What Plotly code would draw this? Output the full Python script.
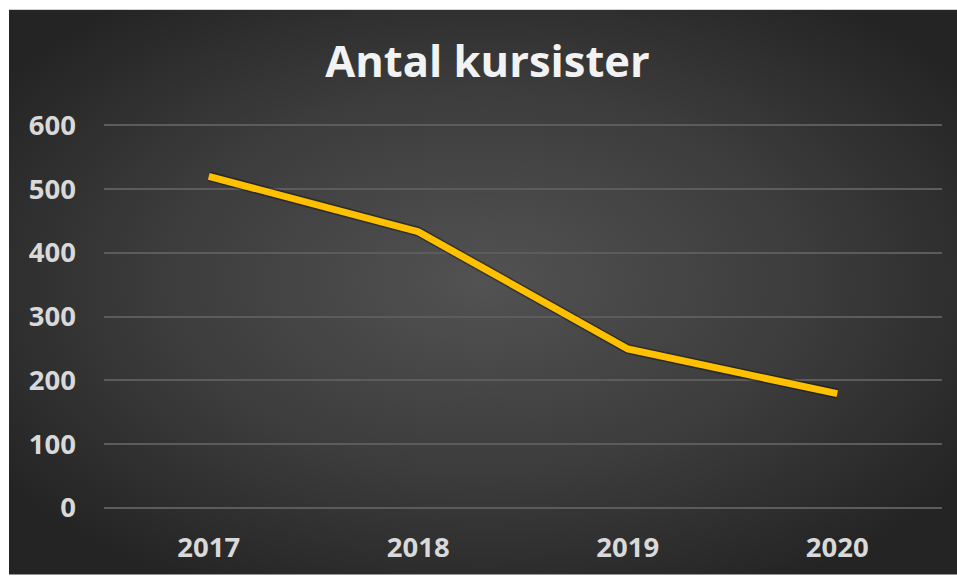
import base64
import plotly.graph_objects as go

# Data
years = ["2017", "2018", "2019", "2020"]
kursister = [520, 433, 249, 179]
y_ticks = [0, 100, 200, 300, 400, 500, 600]

W, H = 957, 577
ML, MR, MT, MB = 104, 15, 124, 66
plot_w = W - ML - MR
plot_h = H - MT - MB

# dark radial-gradient background (white 9px strip at top and left)
bx0, by0 = 9, 9
bw, bh = W - bx0, H - by0
svg = f'''<svg xmlns="http://www.w3.org/2000/svg" width="{bw}" height="{bh}" viewBox="0 0 {bw} {bh}" preserveAspectRatio="none">
<defs><radialGradient id="g" cx="50%" cy="48%" r="62%" fx="50%" fy="48%">
<stop offset="0%" stop-color="#525252"/>
<stop offset="55%" stop-color="#3c3c3c"/>
<stop offset="100%" stop-color="#242424"/>
</radialGradient></defs>
<rect width="{bw}" height="{bh}" fill="url(#g)"/></svg>'''
src = "data:image/svg+xml;base64," + base64.b64encode(svg.encode()).decode()

img_x = (bx0 - ML) / plot_w
img_y = 1 + (MT - by0) / plot_h
img_sx = bw / plot_w
img_sy = bh / plot_h

fig = go.Figure()
# soft shadow under the line
fig.add_trace(go.Scatter(
    x=years, y=kursister, mode="lines",
    line=dict(color="rgba(0,0,0,0.35)", width=10),
    hoverinfo="skip", showlegend=False,
))
fig.add_trace(go.Scatter(
    x=years, y=kursister, mode="lines",
    line=dict(color="#FFC000", width=7),
    name="Antal kursister", showlegend=False,
))

fig.update_layout(
    width=W, height=H,
    margin=dict(l=ML, r=MR, t=MT, b=MB),
    paper_bgcolor="white",
    plot_bgcolor="rgba(0,0,0,0)",
    images=[dict(source=src, xref="paper", yref="paper", x=img_x, y=img_y,
                 sizex=img_sx, sizey=img_sy, xanchor="left", yanchor="top",
                 sizing="stretch", layer="below")],
    title=dict(text="Antal kursister", xref="container", x=487.5 / W,
               xanchor="center", yref="container", y=1 - 62 / H, yanchor="middle",
               font=dict(family="Open Sans", size=43.5, color="#f2f2f2", weight="bold")),
    font=dict(family="Open Sans"),
)

fig.update_xaxes(
    type="category", range=[-0.5, 3.5], showgrid=False, zeroline=False,
    showline=False, ticks="", ticklabelstandoff=19,
    tickfont=dict(family="Open Sans", size=27.5, color="#d9d9d9", weight="bold"),
)
fig.update_yaxes(
    range=[-2, 602], tickvals=y_ticks, showgrid=True, gridcolor="#5c5c5c",
    gridwidth=1.5, zeroline=False, showline=False, ticks="",
    ticklabelstandoff=27,
    tickfont=dict(family="Open Sans", size=27.5, color="#d9d9d9", weight="bold"),
)

fig.write_html(
    "out.html",
    config={"displayModeBar": False},
    post_script=(
        "document.documentElement.style.margin='0';"
        "document.documentElement.style.overflow='hidden';"
        "document.body.style.margin='0';document.body.style.overflow='hidden';"
    ),
)
